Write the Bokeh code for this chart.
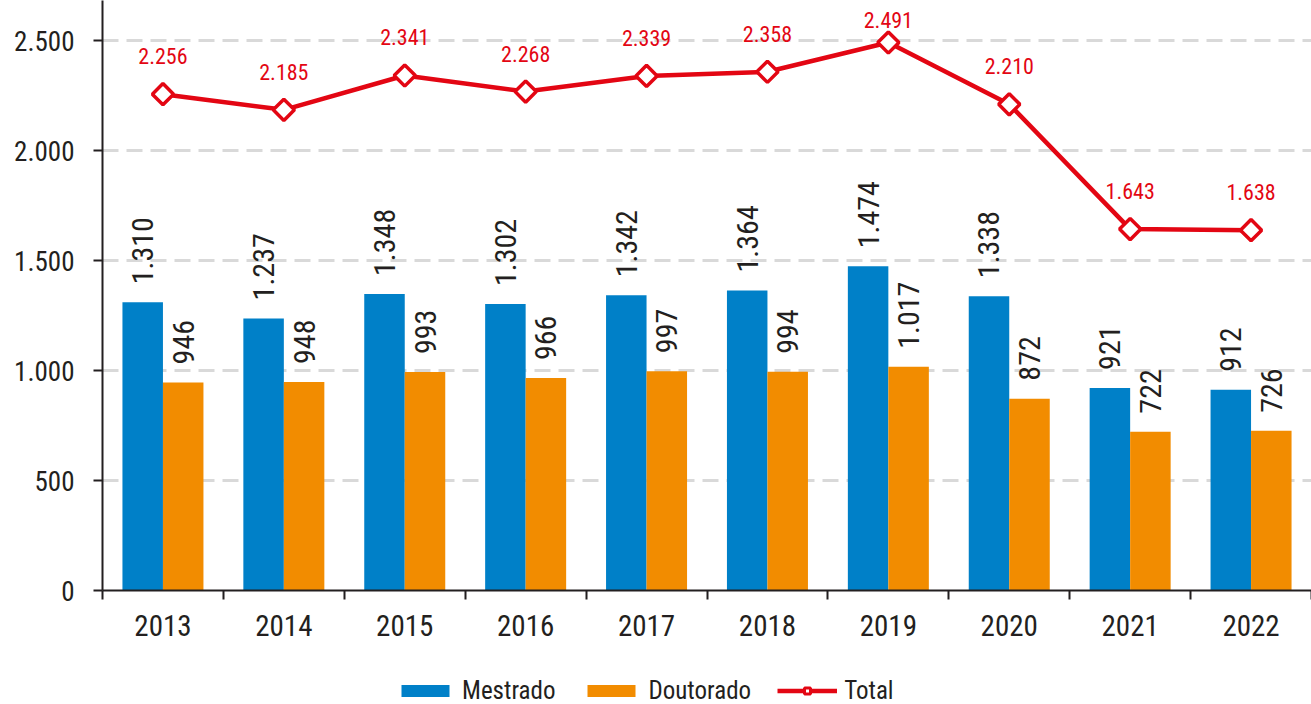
import numpy as np
from bokeh.plotting import figure
from bokeh.layouts import column
from bokeh.models import (Range1d, FixedTicker, CustomJSTickFormatter,
                          Legend, LegendItem, ColumnDataSource)
from bokeh.core.properties import value
from bokeh.embed import file_html
from bokeh.resources import INLINE

# ---- data ----
years = ["2013", "2014", "2015", "2016", "2017", "2018", "2019", "2020", "2021", "2022"]
mestrado = [1310, 1237, 1348, 1302, 1342, 1364, 1474, 1338, 921, 912]
doutorado = [946, 948, 993, 966, 997, 994, 1017, 872, 722, 726]
total = [2256, 2185, 2341, 2268, 2339, 2358, 2491, 2210, 1643, 1638]
y_ticks = [0, 500, 1000, 1500, 2000, 2500]
series_names = ["Mestrado", "Doutorado", "Total"]

FONT = "Roboto Condensed"
DARK = "#231F20"
BLUE = "#0080C8"
ORANGE = "#F28C00"
RED = "#E30613"


def fmt(v):
    return f"{v:,}".replace(",", ".")


idx = np.arange(len(years))
centers = idx + 0.5
bar_w = 0.335

src = ColumnDataSource(dict(
    xm=centers - bar_w / 2,
    xd=centers + bar_w / 2,
    xc=centers,
    mestrado=mestrado,
    doutorado=doutorado,
    total=total,
    lm=[fmt(v) for v in mestrado],
    ld=[fmt(v) for v in doutorado],
    lt=[fmt(v) for v in total],
    ty=np.minimum(np.array(total) + 173, 2595),
))

p = figure(width=1311, height=650, x_range=Range1d(0, len(years)), y_range=Range1d(0, 2682),
           output_backend="svg", toolbar_location=None,
           min_border_left=102, min_border_right=0, min_border_top=0, min_border_bottom=60)
p.outline_line_color = None
p.background_fill_color = "white"
p.border_fill_color = "white"
p.xgrid.visible = False
p.ygrid.grid_line_color = "#D9D9D9"
p.ygrid.grid_line_width = 3
p.ygrid.grid_line_dash = "16 8"

# x axis
xa = p.xaxis[0]
xa.ticker = FixedTicker(ticks=list(centers), minor_ticks=list(range(len(years) + 1)))
xa.formatter = CustomJSTickFormatter(args=dict(labels=years),
                                     code="const i = Math.floor(tick); return (i >= 0 && i < labels.length) ? labels[i] : '';")
xa.major_tick_out = 0
xa.major_tick_in = 0
xa.minor_tick_out = 9
xa.minor_tick_in = 0
xa.minor_tick_line_color = DARK
xa.minor_tick_line_width = 2
xa.axis_line_color = DARK
xa.axis_line_width = 2
xa.major_label_text_font = FONT
xa.major_label_text_font_size = "29px"
xa.major_label_text_color = DARK
xa.major_label_standoff = 15

# y axis
ya = p.yaxis[0]
ya.ticker = FixedTicker(ticks=y_ticks)
ya.formatter = CustomJSTickFormatter(code="return tick.toFixed(0).replace(/\\B(?=(\\d{3})+(?!\\d))/g, '.');")
ya.major_tick_out = 9
ya.major_tick_in = 0
ya.major_tick_line_color = DARK
ya.major_tick_line_width = 2
ya.minor_tick_line_color = None
ya.axis_line_color = DARK
ya.axis_line_width = 2
ya.major_label_text_font = FONT
ya.major_label_text_font_size = "27px"
ya.major_label_text_color = DARK
ya.major_label_standoff = 19

# bars
p.vbar(x="xm", top="mestrado", bottom=0, width=bar_w, fill_color=BLUE, line_color=None, source=src)
p.vbar(x="xd", top="doutorado", bottom=0, width=bar_w, fill_color=ORANGE, line_color=None, source=src)

# total line
p.line(x="xc", y="total", line_width=4.5, line_color=RED, source=src)
p.scatter(x="xc", y="total", marker="square", angle=np.pi / 4, size=15,
          fill_color="white", line_color=RED, line_width=3.5, source=src)

# labels
p.text(x="xm", y="mestrado", text="lm", angle=np.pi / 2, text_align="left", text_baseline="middle",
       y_offset=-18, text_font=value(FONT), text_font_size="30px", text_color=DARK, source=src)
p.text(x="xd", y="doutorado", text="ld", angle=np.pi / 2, text_align="left", text_baseline="middle",
       y_offset=-18, text_font=value(FONT), text_font_size="30px", text_color=DARK, source=src)
p.text(x="xc", y="ty", text="lt", text_align="center", text_baseline="middle",
       text_font=value(FONT), text_font_size="22px", text_color=RED, source=src)

# ---- legend strip (separate figure so the legend is not clipped by the chart frame) ----
# its renderers use the same data, but lie far outside this strip's ranges, so only the legend shows
lf = figure(width=1311, height=54, x_range=Range1d(-100, -90), y_range=Range1d(-2, -1),
            output_backend="svg", toolbar_location=None, x_axis_type=None, y_axis_type=None,
            min_border_left=0, min_border_right=0, min_border_top=0, min_border_bottom=0)
lf.outline_line_color = None
lf.xgrid.visible = False
lf.ygrid.visible = False
lm_r = lf.vbar(x="xm", top="mestrado", bottom=0, width=bar_w, fill_color=BLUE, line_color=None, source=src)
ld_r = lf.vbar(x="xd", top="doutorado", bottom=0, width=bar_w, fill_color=ORANGE, line_color=None, source=src)
lt_l = lf.line(x="xc", y="total", line_width=4.5, line_color=RED, source=src)
lt_p = lf.scatter(x="xc", y="total", marker="square", angle=np.pi / 4, size=10,
                  fill_color="white", line_color=RED, line_width=3, source=src)

legend = Legend(items=[LegendItem(label=series_names[0], renderers=[lm_r]),
                       LegendItem(label=series_names[1], renderers=[ld_r]),
                       LegendItem(label=series_names[2], renderers=[lt_l, lt_p])],
                orientation="horizontal", location=(293, -1),
                glyph_width=60, glyph_height=15, label_standoff=7, spacing=26,
                padding=0, margin=0, border_line_color=None, background_fill_alpha=0,
                label_text_font=FONT, label_text_font_size="25px", label_text_color=DARK)
lf.add_layout(legend, "center")

open("out.html", "w").write(file_html(column(p, lf, spacing=0), INLINE))
